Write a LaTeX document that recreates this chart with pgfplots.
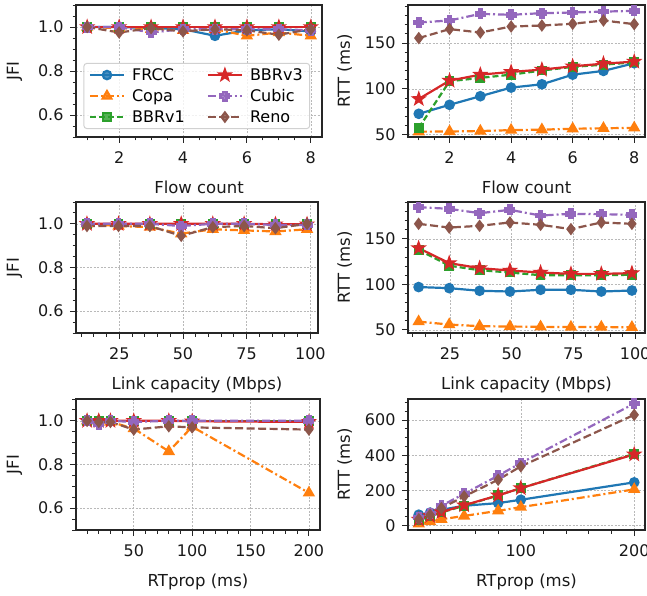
\documentclass[border=0pt]{standalone}
\usepackage{fontspec}
\setmainfont{DejaVu Sans}
\usepackage{pgfplots}
\pgfplotsset{compat=1.18}
\usetikzlibrary{plotmarks}

\definecolor{cfrcc}{RGB}{31,119,180}
\definecolor{ccopa}{RGB}{255,127,14}
\definecolor{cbbra}{RGB}{44,160,44}
\definecolor{cbbrc}{RGB}{214,39,40}
\definecolor{ccubic}{RGB}{148,103,189}
\definecolor{creno}{RGB}{140,86,75}

\pgfdeclareplotmark{fstar}{%
  \pgfpathmoveto{\pgfpointpolar{90}{1.25\pgfplotmarksize}}%
  \pgfpathlineto{\pgfpointpolar{126}{0.5\pgfplotmarksize}}%
  \pgfpathlineto{\pgfpointpolar{162}{1.25\pgfplotmarksize}}%
  \pgfpathlineto{\pgfpointpolar{198}{0.5\pgfplotmarksize}}%
  \pgfpathlineto{\pgfpointpolar{234}{1.25\pgfplotmarksize}}%
  \pgfpathlineto{\pgfpointpolar{270}{0.5\pgfplotmarksize}}%
  \pgfpathlineto{\pgfpointpolar{306}{1.25\pgfplotmarksize}}%
  \pgfpathlineto{\pgfpointpolar{342}{0.5\pgfplotmarksize}}%
  \pgfpathlineto{\pgfpointpolar{18}{1.25\pgfplotmarksize}}%
  \pgfpathlineto{\pgfpointpolar{54}{0.5\pgfplotmarksize}}%
  \pgfpathclose\pgfusepathqfillstroke}
\pgfdeclareplotmark{fplus}{%
  \pgfmathsetlengthmacro{\a}{0.38\pgfplotmarksize}%
  \pgfmathsetlengthmacro{\b}{\pgfplotmarksize}%
  \pgfpathmoveto{\pgfqpoint{-\a}{\b}}%
  \pgfpathlineto{\pgfqpoint{\a}{\b}}\pgfpathlineto{\pgfqpoint{\a}{\a}}%
  \pgfpathlineto{\pgfqpoint{\b}{\a}}\pgfpathlineto{\pgfqpoint{\b}{-\a}}%
  \pgfpathlineto{\pgfqpoint{\a}{-\a}}\pgfpathlineto{\pgfqpoint{\a}{-\b}}%
  \pgfpathlineto{\pgfqpoint{-\a}{-\b}}\pgfpathlineto{\pgfqpoint{-\a}{-\a}}%
  \pgfpathlineto{\pgfqpoint{-\b}{-\a}}\pgfpathlineto{\pgfqpoint{-\b}{\a}}%
  \pgfpathlineto{\pgfqpoint{-\a}{\a}}%
  \pgfpathclose\pgfusepathqfillstroke}

\pgfplotsset{
  frcc/.style={color=cfrcc, line width=2.2pt, solid, mark=*, mark size=4.2pt, mark options={solid}},
  copa/.style={color=ccopa, line width=2.2pt, dash pattern=on 8pt off 3pt on 2pt off 3pt, mark=triangle*, mark size=5pt, mark options={solid}},
  bbra/.style={color=cbbra, line width=2.2pt, dash pattern=on 6pt off 3pt, mark=square*, mark size=3.8pt, mark options={solid}},
  bbrc/.style={color=cbbrc, line width=2.2pt, solid, mark=fstar, mark size=4.2pt, mark options={solid}},
  cubic/.style={color=ccubic, line width=2.2pt, dash pattern=on 8pt off 3pt on 2pt off 3pt, mark=fplus, mark size=4.4pt, mark options={solid}},
  reno/.style={color=creno, line width=2.2pt, dash pattern=on 8pt off 3.5pt, mark=diamond*, mark size=4.5pt, mark options={solid}},
  base/.style={
    scale only axis,
    axis line style={black!85, line width=1.1pt},
    tick style={black!85, line width=0.9pt},
    major tick length=6pt, minor tick length=3.5pt,
    tick align=outside, tick pos=left,
    grid=major,
    major grid style={gray!55, line width=0.6pt, dash pattern=on 2pt off 1.5pt},
    ticklabel style={font=\fontsize{16}{19}\selectfont, text=black!90},
    xticklabel style={yshift=-5pt},
    yticklabel style={xshift=-3pt},
    label style={font=\fontsize{16.5}{20}\selectfont, text=black!90},
    xlabel shift=10pt,
    ylabel shift=9pt,
    /pgf/number format/assume math mode=true,
    clip=false,
  },
  jfi/.style={base, ymin=0.5, ymax=1.1, ytick={0.6,0.8,1.0},
    minor ytick={0.5,0.55,0.65,0.7,0.75,0.85,0.9,0.95,1.05,1.1},
    yticklabel style={/pgf/number format/fixed, /pgf/number format/fixed zerofill, /pgf/number format/precision=1},
    ylabel={JFI}},
  rtt/.style={base, ylabel={RTT (ms)}, ylabel shift=6pt},
}

\begin{document}
\begin{tikzpicture}
\path[use as bounding box] (0,0) rectangle (647pt,595pt);

% ---------------- Top left
\begin{axis}[jfi, at={(76pt,458pt)}, anchor=south west, width=246pt, height=132pt,
  xmin=0.65, xmax=8.35, xtick={2,4,6,8}, minor xtick={1,1.5,2.5,3,3.5,4.5,5,5.5,6.5,7,7.5},
  xlabel={Flow count},
  legend columns=2,
  legend style={at={(axis description cs:0.03,0.06)}, anchor=south west,
    draw=black!18, line width=1pt, rounded corners=3pt, fill=white, fill opacity=0.8, text opacity=1,
    font=\fontsize{16}{19}\selectfont, inner xsep=5pt, inner ysep=3pt, row sep=3.5pt,
    /tikz/every odd column/.append style={column sep=5pt},
    /tikz/every even column/.append style={column sep=20pt}},
  legend cell align=left,
  legend image code/.code={\draw[mark repeat=2, mark phase=2] plot coordinates {(0pt,0pt) (17pt,0pt) (34pt,0pt)};},
]
\addlegendimage{frcc}\addlegendentry{FRCC}
\addlegendimage{bbrc}\addlegendentry{BBRv3}
\addlegendimage{copa}\addlegendentry{Copa}
\addlegendimage{cubic}\addlegendentry{Cubic}
\addlegendimage{bbra}\addlegendentry{BBRv1}
\addlegendimage{reno}\addlegendentry{Reno}
\addplot[frcc, forget plot] coordinates {(1,1.0)(2,1.0)(3,0.995)(4,0.99)(5,0.96)(6,0.985)(7,0.99)(8,0.98)};
\addplot[copa, forget plot] coordinates {(1,1.0)(2,0.995)(3,0.99)(4,0.985)(5,0.99)(6,0.96)(7,0.975)(8,0.96)};
\addplot[bbra, forget plot] coordinates {(1,1.0)(2,1.0)(3,1.0)(4,1.0)(5,1.0)(6,1.0)(7,1.0)(8,1.0)};
\addplot[bbrc, forget plot] coordinates {(1,1.0)(2,1.0)(3,1.0)(4,1.0)(5,1.0)(6,1.0)(7,1.0)(8,1.0)};
\addplot[cubic, forget plot] coordinates {(1,1.0)(2,1.0)(3,0.975)(4,0.99)(5,0.99)(6,0.99)(7,0.99)(8,0.985)};
\addplot[reno, forget plot] coordinates {(1,1.0)(2,0.975)(3,0.995)(4,0.98)(5,0.99)(6,0.985)(7,0.965)(8,0.99)};
\end{axis}

% ---------------- Top right
\begin{axis}[rtt, at={(408pt,458pt)}, anchor=south west, width=237pt, height=132pt,
  xmin=0.65, xmax=8.35, xtick={2,4,6,8}, minor xtick={1,1.5,2.5,3,3.5,4.5,5,5.5,6.5,7,7.5},
  ymin=47.5, ymax=191.5, ytick={50,100,150}, minor ytick={60,70,80,90,110,120,130,140,160,170,180,190},
  xlabel={Flow count}]
\addplot[frcc] coordinates {(1,72.8)(2,82.6)(3,92)(4,101.4)(5,105)(6,115.5)(7,119.6)(8,128)};
\addplot[copa] coordinates {(1,53.3)(2,53.5)(3,54)(4,55)(5,55.5)(6,56.5)(7,57)(8,57.5)};
\addplot[bbra] coordinates {(1,57.5)(2,108.3)(3,112)(4,115.5)(5,120)(6,124)(7,126.4)(8,129)};
\addplot[bbrc] coordinates {(1,89)(2,109)(3,115.5)(4,118.5)(5,121)(6,124.6)(7,127.5)(8,129.7)};
\addplot[cubic] coordinates {(1,172.4)(2,174.6)(3,181.8)(4,180.8)(5,182.6)(6,183.3)(7,184.3)(8,185.1)};
\addplot[reno] coordinates {(1,155.4)(2,165.2)(3,161.5)(4,168)(5,169.1)(6,171)(7,174.6)(8,170.6)};
\end{axis}

% ---------------- Middle left
\begin{axis}[jfi, at={(76pt,262pt)}, anchor=south west, width=242pt, height=131pt,
  xmin=8, xmax=103, xtick={25,50,75,100}, minor xtick={10,15,20,30,35,40,45,55,60,65,70,80,85,90,95},
  xlabel={Link capacity (Mbps)}]
\addplot[frcc] coordinates {(12.3,1.0)(24.7,1.0)(37,1.0)(49.3,1.0)(61.7,1.0)(74,1.0)(86.3,1.0)(98.7,1.0)};
\addplot[copa] coordinates {(12.3,1.0)(24.7,0.99)(37,0.985)(49.3,0.955)(61.7,0.975)(74,0.97)(86.3,0.965)(98.7,0.975)};
\addplot[bbra] coordinates {(12.3,1.0)(24.7,1.0)(37,1.0)(49.3,1.0)(61.7,1.0)(74,1.0)(86.3,1.0)(98.7,1.0)};
\addplot[bbrc] coordinates {(12.3,1.0)(24.7,1.0)(37,1.0)(49.3,1.0)(61.7,1.0)(74,1.0)(86.3,0.998)(98.7,0.998)};
\addplot[cubic] coordinates {(12.3,1.0)(24.7,1.0)(37,1.0)(49.3,0.99)(61.7,1.0)(74,1.0)(86.3,0.995)(98.7,0.995)};
\addplot[reno] coordinates {(12.3,0.99)(24.7,0.99)(37,0.99)(49.3,0.945)(61.7,0.985)(74,0.99)(86.3,0.98)(98.7,1.0)};
\end{axis}

% ---------------- Middle right
\begin{axis}[rtt, at={(408pt,262pt)}, anchor=south west, width=237pt, height=131pt,
  xmin=8, xmax=104, xtick={25,50,75,100}, minor xtick={10,15,20,30,35,40,45,55,60,65,70,80,85,90,95},
  ymin=46.5, ymax=190.5, ytick={50,100,150}, minor ytick={60,70,80,90,110,120,130,140,160,170,180,190},
  xlabel={Link capacity (Mbps)}]
\addplot[frcc] coordinates {(12.3,97)(24.7,95.8)(37,92.9)(49.3,92.1)(61.7,94)(74,94)(86.3,92.1)(98.7,93.2)};
\addplot[copa] coordinates {(12.3,59)(24.7,55.8)(37,54)(49.3,53.6)(61.7,53.3)(74,53)(86.3,53)(98.7,52.8)};
\addplot[bbra] coordinates {(12.3,137.9)(24.7,120.5)(37,115.5)(49.3,113)(61.7,110)(74,110)(86.3,110)(98.7,110.5)};
\addplot[bbrc] coordinates {(12.3,139.8)(24.7,123.3)(37,117.8)(49.3,115.2)(61.7,113)(74,111.5)(86.3,111.5)(98.7,112.3)};
\addplot[cubic] coordinates {(12.3,184.8)(24.7,183)(37,178.2)(49.3,181.9)(61.7,175.6)(74,177.5)(86.3,177.1)(98.7,176.4)};
\addplot[reno] coordinates {(12.3,166.5)(24.7,162.4)(37,164.3)(49.3,168)(61.7,165.4)(74,160.7)(86.3,168)(98.7,166.5)};
\end{axis}

% ---------------- Bottom left
\begin{axis}[jfi, at={(76pt,65pt)}, anchor=south west, width=244pt, height=131pt,
  xmin=0.5, xmax=209.5, xtick={50,100,150,200}, minor xtick={10,20,...,190},
  xlabel={RTprop (ms)}]
\addplot[frcc] coordinates {(10,1.0)(20,1.0)(30,1.0)(50,1.0)(80,1.0)(100,1.0)(200,1.0)};
\addplot[copa] coordinates {(10,1.0)(20,1.0)(30,0.995)(50,0.965)(80,0.86)(100,0.973)(200,0.67)};
\addplot[bbra] coordinates {(10,1.0)(20,1.0)(30,1.0)(50,1.0)(80,1.0)(100,1.0)(200,1.0)};
\addplot[bbrc] coordinates {(10,1.0)(20,1.0)(30,1.0)(50,1.0)(80,1.0)(100,0.998)(200,0.995)};
\addplot[cubic] coordinates {(10,1.0)(20,0.985)(30,1.0)(50,0.995)(80,1.0)(100,1.0)(200,1.0)};
\addplot[reno] coordinates {(10,1.0)(20,0.995)(30,0.995)(50,0.96)(80,0.975)(100,0.97)(200,0.96)};
\end{axis}

% ---------------- Bottom right
\begin{axis}[rtt, at={(408pt,65pt)}, anchor=south west, width=237pt, height=131pt,
  xmin=0.5, xmax=209.5, xtick={100,200}, minor xtick={20,40,60,80,120,140,160,180},
  ymin=-25, ymax=720, ytick={0,200,400,600}, minor ytick={50,100,150,250,300,350,450,500,550,650,700},
  xlabel={RTprop (ms)}]
\addplot[frcc] coordinates {(10,62)(20,74)(30,90)(50,113)(80,128)(100,147)(200,246)};
\addplot[copa] coordinates {(10,10)(20,23)(30,36)(50,55)(80,84)(100,105)(200,206)};
\addplot[bbra] coordinates {(10,30)(20,52)(30,75)(50,113)(80,172)(100,213)(200,408)};
\addplot[bbrc] coordinates {(10,35)(20,55)(30,77)(50,116)(80,172)(100,213)(200,405)};
\addplot[cubic] coordinates {(10,45)(20,70)(30,113)(50,181)(80,284)(100,356)(200,694)};
\addplot[reno] coordinates {(10,36)(20,61)(30,99)(50,166)(80,261)(100,337)(200,630)};
\end{axis}
\end{tikzpicture}
\end{document}
